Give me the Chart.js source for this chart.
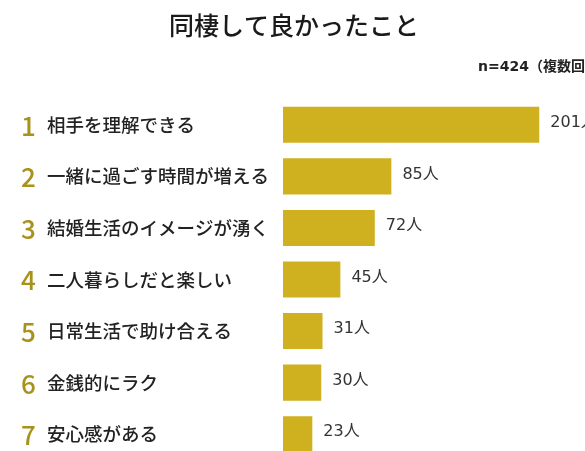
<!DOCTYPE html>
<html>
<head>
<meta charset="utf-8">
<script src="https://cdn.jsdelivr.net/npm/chart.js@4"></script>
<style>
  html, body { margin: 0; padding: 0; background: #fff; overflow: hidden; }
  #wrap { position: absolute; left: 0; top: 0; width: 640px; height: 470px; }
</style>
</head>
<body>
<div id="wrap"><canvas id="goodChart"></canvas></div>
<script>
const titleText = "同棲して良かったこと";
const noteText = "n=424（複数回答）";
const ranks = ["1", "2", "3", "4", "5", "6", "7"];
const reasons = [
    "相手を理解できる",
    "一緒に過ごす時間が増える",
    "結婚生活のイメージが湧く",
    "二人暮らしだと楽しい",
    "日常生活で助け合える",
    "金銭的にラク",
    "安心感がある"
];
const counts = [201, 85, 72, 45, 31, 30, 23];
const unit = "人";

const FONT = "'Noto Sans CJK JP', 'Noto Sans', sans-serif";
const NUM_FONT = "'DejaVu Sans', 'Noto Sans CJK JP', sans-serif";

// draws title, note, rank + label on the left and the value after each bar
const textPlugin = {
    id: "textPlugin",
    afterDatasetsDraw(chart) {
        const ctx = chart.ctx;
        const y = chart.scales.y;
        const meta = chart.getDatasetMeta(0);
        ctx.save();

        ctx.fillStyle = "#1a1a1a";
        ctx.font = "500 25px " + FONT;
        ctx.textAlign = "center";
        ctx.textBaseline = "middle";
        ctx.fillText(titleText, 294, 25);

        ctx.font = "bold 14px " + NUM_FONT;
        ctx.textAlign = "left";
        ctx.fillStyle = "#222";
        ctx.fillText(noteText, 478, 67);

        reasons.forEach((r, i) => {
            const py = y.getPixelForValue(i);
            ctx.fillStyle = "#a8921c";
            ctx.font = "500 26px " + FONT;
            ctx.textAlign = "left";
            ctx.fillText(ranks[i], 21, py + 1);
            ctx.fillStyle = "#222";
            ctx.font = "500 18.5px " + FONT;
            ctx.fillText(r, 47, py);

            const bar = meta.data[i];
            ctx.fillStyle = "#333";
            ctx.font = "16px " + NUM_FONT;
            ctx.fillText(counts[i] + unit, bar.x + 11, py - 2);
        });
        ctx.restore();
    }
};

new Chart(document.getElementById("goodChart"), {
    type: "bar",
    data: {
        labels: reasons,
        datasets: [{
            data: counts,
            backgroundColor: "rgb(207, 177, 31)",
            borderWidth: 0,
            categoryPercentage: 1,
            barPercentage: 0.7
        }]
    },
    options: {
        indexAxis: "y",
        responsive: true,
        maintainAspectRatio: false,
        animation: false,
        layout: { padding: { left: 283, right: 0, top: 99, bottom: 10 } },
        plugins: {
            legend: { display: false },
            title: { display: false },
            tooltip: { enabled: false }
        },
        scales: {
            x: { display: false, min: 0, max: 280 },
            y: { display: false }
        }
    },
    plugins: [textPlugin]
});
</script>
</body>
</html>
